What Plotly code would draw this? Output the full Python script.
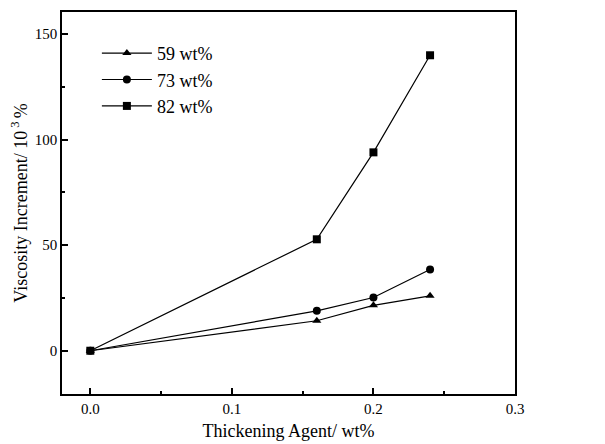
import plotly.graph_objects as go

x_vals = [0.0, 0.16, 0.20, 0.24]
y_59 = [0.0, 14.2, 21.5, 26.0]
y_73 = [0.0, 18.9, 25.2, 38.5]
y_82 = [0.0, 52.8, 94.0, 140.0]
series_names = ["59 wt%", "73 wt%", "82 wt%"]
symbols = ["triangle-up", "circle", "square"]

fig = go.Figure()
for name, ys, sym in zip(series_names, [y_59, y_73, y_82], symbols):
    fig.add_trace(go.Scatter(
        x=x_vals, y=ys, name=name, mode="lines+markers",
        line=dict(color="black", width=1.2),
        marker=dict(symbol=sym, size=8, color="black"),
    ))

font = dict(family="Liberation Serif, Times New Roman, serif", color="black")
fig.update_layout(
    width=605, height=444,
    margin=dict(l=54, r=98, t=2, b=58),
    plot_bgcolor="white", paper_bgcolor="white",
    font=dict(size=15, **font),
    showlegend=True,
    legend=dict(x=0.077, y=0.94, xanchor="left", yanchor="top",
                bgcolor="rgba(0,0,0,0)", font=dict(size=18, **font),
                tracegroupgap=0, itemwidth=50),
    xaxis=dict(range=[-0.02, 0.3], tickvals=[0.0, 0.1, 0.2, 0.3],
               ticktext=["0.0", "0.1", "0.2", "0.3"],
               ticks="inside", ticklen=6, tickwidth=1.5, tickcolor="black",
               minor=dict(ticks="inside", ticklen=3, dtick=0.05, tick0=0, tickcolor="black"),
               showline=True, linecolor="black", linewidth=1.5, mirror=True,
               showgrid=False, zeroline=False,
               title=dict(text="Thickening Agent/ wt%", font=dict(size=18, **font), standoff=9)),
    yaxis=dict(range=[-20.5, 160.5], tickvals=[0, 50, 100, 150],
               ticks="inside", ticklen=6, tickwidth=1.5, tickcolor="black",
               minor=dict(ticks="inside", ticklen=3, dtick=25, tick0=0, tickcolor="black"),
               showline=True, linecolor="black", linewidth=1.5, mirror=True,
               showgrid=False, zeroline=False,
               title=dict(text="Viscosity Increment/ 10<sup> 3 </sup>%", font=dict(size=18, **font), standoff=5)),
)
fig.write_html("out.html")
